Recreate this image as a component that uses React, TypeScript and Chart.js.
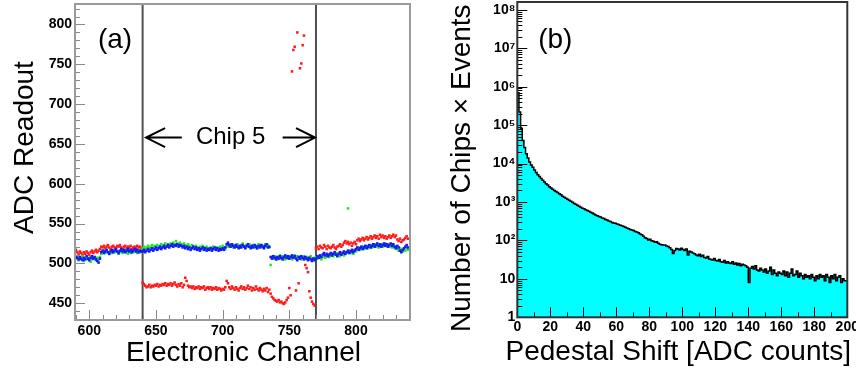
import React, { useEffect, useRef } from 'react';
import { Chart, registerables } from 'chart.js';

Chart.register(...registerables);

const FONT = '"Liberation Sans", Arial, Helvetica, sans-serif';

// ---------------- Panel (a): ADC readout per electronic channel ----------------
const firstChannel = 590; // channel of the first entry of each readout array

const redReadout = [
  517, 514, 512, 515, 513, 511, 514, 512, 515, 513,
  511, 514, 516, 513, 515, 517, 514, 516, 518, 521,
  520, 522, 519, 521, 523, 520, 518, 521, 522, 520,
  519, 522, 521, 523, 520, 518, 521, 522, 519, 521,
  520, 522, 518, 520, 521, 519, 522, 520, 521, 519,
  476, 474, 472, 470, 471, 473, 470, 472, 471, 473,
  472, 474, 471, 473, 472, 474, 473, 475, 472, 474,
  473, 475, 472, 474, 476, 473, 471, 474, 472, 475,
  470, 473, 482, 478, 472, 470, 471, 469, 471, 468,
  470, 469, 471, 468, 470, 469, 471, 467, 469, 470,
  468, 470, 467, 469, 468, 470, 467, 469, 468, 466,
  468, 467, 470, 478, 475, 470, 468, 471, 469, 467,
  470, 468, 466, 469, 471, 468, 470, 467, 469, 472,
  468, 470, 466, 469, 467, 471, 468, 466, 469, 467,
  465, 468, 466, 469, 464, 467, 462, 458, 456, 454,
  453, 452, 454, 451, 452, 450, 449, 451, 454, 457,
  469, 460, 741, 768, 772, 466, 790, 475, 745, 751,
  774, 786, 498, 494, 489, 465, 457, 452, 449, 447,
  519, 521, 518, 522, 520, 519, 523, 521, 518, 522,
  520, 519, 521, 523, 520, 518, 521, 522, 524, 521,
  523, 526, 528, 525, 527, 524, 526, 522, 525, 527,
  524, 529, 531, 528, 530, 532, 529, 531, 533, 530,
  532, 534, 531, 533, 535, 532, 534, 531, 536, 533,
  535, 532, 534, 531, 533, 535, 532, 534, 536, 533,
  535, 530, 528, 531, 527, 529, 530, 532, 534, 531,
];

const greenReadout = [
  506, 508, 504, 507, 505, 509, 503, 506, 508, 505,
  507, 502, 505, 508, 506, 504, 507, 505, 508, 512,
  515, 517, 513, 516, 514, 512, 515, 513, 516, 514,
  517, 515, 512, 514, 516, 513, 515, 517, 514, 512,
  515, 513, 516, 514, 517, 515, 513, 516, 514, 517,
  519, 521, 518, 520, 522, 519, 521, 523, 520, 522,
  521, 523, 520, 522, 524, 521, 523, 525, 522, 524,
  523, 525, 522, 526, 524, 528, 525, 523, 526, 524,
  522, 525, 523, 521, 524, 522, 520, 523, 521, 519,
  522, 520, 518, 521, 519, 522, 520, 518, 521, 519,
  517, 520, 518, 521, 519, 517, 520, 518, 521, 519,
  522, 520, 518, 521, 523, 521, 524, 522, 520, 523,
  521, 524, 522, 520, 523, 525, 522, 520, 523, 521,
  524, 522, 520, 523, 521, 519, 522, 524, 521, 523,
  520, 522, 524, 521, 523, 520, 498, 508, 506, 509,
  507, 505, 508, 510, 506, 509, 507, 505, 508, 506,
  509, 507, 505, 508, 510, 507, 509, 506, 508, 505,
  507, 509, 506, 508, 505, 507, 509, 506, 504, 507,
  508, 506, 509, 507, 505, 508, 510, 507, 509, 511,
  508, 510, 512, 509, 511, 513, 510, 512, 509, 511,
  513, 510, 512, 514, 569, 516, 513, 515, 512, 517,
  515, 518, 520, 517, 519, 521, 518, 520, 522, 519,
  521, 523, 520, 522, 524, 521, 523, 520, 522, 524,
  521, 523, 525, 522, 524, 521, 523, 520, 522, 519,
  521, 518, 516, 519, 517, 515, 518, 516, 519, 517,
];

const blueReadout = [
  509, 507, 505, 508, 506, 504, 507, 505, 509, 506,
  504, 507, 509, 506, 508, 505, 503, 501, 506, 514,
  516, 513, 515, 517, 514, 512, 515, 517, 514, 516,
  518, 515, 513, 516, 518, 515, 517, 514, 516, 518,
  515, 517, 514, 516, 518, 515, 517, 514, 516, 515,
  515, 517, 514, 516, 518, 515, 517, 519, 516, 518,
  520, 517, 519, 521, 518, 520, 522, 519, 521, 523,
  520, 522, 524, 521, 523, 522, 524, 521, 523, 522,
  520, 522, 519, 521, 518, 520, 517, 519, 521, 518,
  520, 517, 519, 516, 518, 520, 517, 519, 516, 518,
  517, 519, 516, 518, 520, 517, 519, 516, 518, 517,
  519, 517, 520, 524, 526, 523, 521, 524, 522, 520,
  523, 521, 519, 522, 520, 523, 521, 519, 522, 524,
  521, 519, 522, 520, 523, 521, 519, 522, 520, 523,
  521, 519, 522, 524, 520, 521, 508, 506, 509, 507,
  505, 508, 506, 509, 507, 505, 508, 510, 507, 509,
  506, 508, 510, 507, 509, 506, 504, 508, 506, 509,
  507, 505, 508, 506, 504, 507, 505, 503, 506, 504,
  506, 509, 507, 510, 508, 511, 513, 510, 512, 509,
  511, 513, 510, 512, 514, 511, 509, 512, 514, 511,
  513, 515, 512, 514, 516, 513, 515, 517, 514, 516,
  518, 520, 517, 519, 521, 518, 520, 522, 519, 521,
  523, 520, 522, 524, 521, 523, 525, 522, 524, 521,
  523, 525, 522, 524, 521, 523, 525, 522, 524, 521,
  519, 522, 520, 516, 514, 517, 519, 521, 523, 520,
];

const chipBoundaries = [640, 770];
const chipLabel = 'Chip 5';
const aXRange = [589.3, 840.5];
const aYRange = [428.9, 825.7];
const aXTicks = [600, 650, 700, 750, 800];
const aYTicks = [450, 500, 550, 600, 650, 700, 750, 800];

// ---------------- Panel (b): pedestal shift histogram ----------------
const shiftBinWidth = 1; // ADC counts per bin, first bin starts at 0
const shiftCounts = [
  1200000, 700000, 220000, 80000, 40000, 26000, 18000, 14000, 11000, 9200,
  8000, 6800, 5900, 5100, 4600, 4100, 3700, 3300, 3000, 2750,
  2500, 2300, 2150, 2000, 1880, 1760, 1650, 1540, 1420, 1330,
  1260, 1180, 1110, 1040, 980, 920, 870, 820, 770, 730,
  690, 665, 630, 600, 575, 545, 515, 490, 460, 440,
  420, 405, 385, 370, 350, 340, 320, 310, 295, 285,
  280, 268, 258, 250, 240, 230, 220, 210, 200, 192,
  188, 182, 172, 165, 158, 148, 140, 128, 118, 112,
  103, 108, 98, 95, 90, 92, 84, 80, 77, 76,
  76, 72, 70, 65, 58, 46, 55, 62, 60, 56,
  63, 58, 55, 60, 42, 52, 50, 47, 45, 42,
  40, 44, 38, 41, 36, 35, 38, 33, 32, 31,
  34, 30, 29, 32, 28, 27, 30, 26, 28, 26,
  25, 28, 24, 26, 23, 25, 22, 24, 23, 22,
  20, 8, 19, 21, 18, 22, 17, 16, 19, 17,
  15, 18, 14, 16, 20, 13, 17, 14, 12, 15,
  14, 13, 16, 12, 15, 11, 14, 18, 12, 13,
  16, 11, 14, 12, 10, 13, 11, 12, 10, 13,
  11, 9, 12, 10, 13, 11, 12, 9, 13, 11,
  8, 12, 10, 13, 9, 11, 12, 8, 10, 9,
];
const bXRange = [0, 200];
const bYRange = [1, 1.6e8];
const bXTicks = [0, 20, 40, 60, 80, 100, 120, 140, 160, 180, 200];
const bYTicks = [1, 10, 1e2, 1e3, 1e4, 1e5, 1e6, 1e7, 1e8];

const SUP = ['⁰', '¹', '²', '³', '⁴', '⁵', '⁶', '⁷', '⁸', '⁹'];
function powLabel(v: number): string {
  const e = Math.round(Math.log10(v));
  if (e === 0) return '1';
  if (e === 1) return '10';
  return '10' + SUP[e];
}

function range(a: number, b: number, step: number): number[] {
  const out: number[] = [];
  for (let v = a; v <= b + 1e-9; v += step) out.push(v);
  return out;
}

type TickSpec = { x: [number, number][]; y: [number, number][] };

function framePlugin(frameColor: string, frameWidth: number, tickColor: string, marks: TickSpec) {
  return {
    id: 'frameTicks',
    afterDatasetsDraw(chart: any) {
      const { ctx, chartArea: a, scales } = chart;
      ctx.save();
      ctx.strokeStyle = tickColor;
      ctx.lineWidth = 1;
      ctx.beginPath();
      for (const [v, len] of marks.x) {
        const px = Math.round(scales.x.getPixelForValue(v)) + 0.5;
        ctx.moveTo(px, a.bottom);
        ctx.lineTo(px, a.bottom - len);
      }
      for (const [v, len] of marks.y) {
        const py = Math.round(scales.y.getPixelForValue(v)) + 0.5;
        ctx.moveTo(a.left, py);
        ctx.lineTo(a.left + len, py);
      }
      ctx.stroke();
      ctx.strokeStyle = frameColor;
      ctx.lineWidth = frameWidth;
      ctx.strokeRect(a.left, a.top, a.right - a.left, a.bottom - a.top);
      ctx.restore();
    },
  };
}

function fixScale(w?: number, h?: number) {
  return (s: any) => {
    if (w !== undefined) s.width = w;
    if (h !== undefined) s.height = h;
    s.paddingLeft = 0;
    s.paddingRight = 0;
    s.paddingTop = 0;
    s.paddingBottom = 0;
  };
}

const tickFont = { family: FONT, size: 14, weight: 'bold' as const };

export default function App() {
  const refA = useRef<HTMLCanvasElement>(null);
  const refB = useRef<HTMLCanvasElement>(null);

  useEffect(() => {
    const toPoints = (arr: number[]) => arr.map((v, i) => ({ x: firstChannel + i, y: v }));

    const aMarks: TickSpec = {
      x: range(590, 840, 10).map((v) => [v, v % 50 === 0 ? 10 : 5] as [number, number]),
      y: range(430, 820, 10).map((v) => [v, v % 50 === 0 ? 10 : 5] as [number, number]),
    };

    const annotA = {
      id: 'annotA',
      beforeDatasetsDraw(chart: any) {
        const { ctx, chartArea: a, scales } = chart;
        ctx.save();
        ctx.strokeStyle = '#505050';
        ctx.lineWidth = 2;
        for (const c of chipBoundaries) {
          const px = scales.x.getPixelForValue(c);
          ctx.beginPath();
          ctx.moveTo(px, a.top);
          ctx.lineTo(px, a.bottom);
          ctx.stroke();
        }
        ctx.restore();
      },
      afterDraw(chart: any) {
        const { ctx, chartArea: a, scales } = chart;
        ctx.save();
        ctx.fillStyle = '#000';
        ctx.textAlign = 'center';
        ctx.textBaseline = 'alphabetic';
        ctx.font = `28px ${FONT}`;
        ctx.fillText('Electronic Channel', (a.left + a.right) / 2 + 1, 361);
        ctx.fillText('(a)', a.left + 40, 48);
        ctx.save();
        ctx.translate(33, 147.5);
        ctx.rotate(-Math.PI / 2);
        ctx.fillText('ADC Readout', 0, 0);
        ctx.restore();
        // chip annotation
        const yMid = scales.y.getPixelForValue(658);
        ctx.font = `24px ${FONT}`;
        ctx.textBaseline = 'middle';
        ctx.fillText(chipLabel, scales.x.getPixelForValue(706), yMid);
        const arrow = (from: number, to: number) => {
          const x0 = scales.x.getPixelForValue(from);
          const x1 = scales.x.getPixelForValue(to);
          const dir = Math.sign(x1 - x0);
          ctx.strokeStyle = '#000';
          ctx.lineWidth = 2;
          ctx.beginPath();
          ctx.moveTo(x0, yMid);
          ctx.lineTo(x1, yMid);
          ctx.moveTo(x1 - dir * 19, yMid - 9.5);
          ctx.lineTo(x1, yMid);
          ctx.lineTo(x1 - dir * 19, yMid + 9.5);
          ctx.stroke();
        };
        arrow(669.4, 642.6);
        arrow(745, 769.3);
        ctx.restore();
      },
    };

    const pointStyle = { pointStyle: 'rect', pointRadius: 1.8, borderWidth: 0, showLine: false };
    const chartA = new Chart(refA.current!, {
      type: 'scatter',
      data: {
        datasets: [
          { label: 'blue', data: toPoints(blueReadout), backgroundColor: '#1414ff', ...pointStyle },
          { label: 'green', data: toPoints(greenReadout), backgroundColor: '#22e822', ...pointStyle },
          { label: 'red', data: toPoints(redReadout), backgroundColor: '#ff1a1a', ...pointStyle },
        ] as any,
      },
      options: {
        animation: false,
        responsive: false,
        events: [],
        layout: { padding: { left: 0, right: 20, top: 1, bottom: 0 } },
        plugins: { legend: { display: false }, tooltip: { enabled: false } },
        scales: {
          x: {
            type: 'linear',
            min: aXRange[0],
            max: aXRange[1],
            grid: { display: false, drawTicks: false },
            border: { display: false },
            ticks: { font: tickFont, color: '#000', padding: 2.3, maxRotation: 0 },
            afterBuildTicks: (s: any) => { s.ticks = aXTicks.map((v) => ({ value: v })); },
            afterFit: fixScale(undefined, 52),
          },
          y: {
            type: 'linear',
            min: aYRange[0],
            max: aYRange[1],
            grid: { display: false, drawTicks: false },
            border: { display: false },
            ticks: { font: tickFont, color: '#000', padding: 3 },
            afterBuildTicks: (s: any) => { s.ticks = aYTicks.map((v) => ({ value: v })); },
            afterFit: fixScale(75, undefined),
          },
        },
      } as any,
      plugins: [annotA, framePlugin('#9a9a9a', 2, '#8a8a8a', aMarks)],
    });

    // -------- Panel (b)
    const histPoints = shiftCounts.map((c, i) => ({ x: i * shiftBinWidth, y: c }));
    histPoints.push({ x: shiftCounts.length * shiftBinWidth, y: shiftCounts[shiftCounts.length - 1] });

    const minorLog: [number, number][] = [];
    for (let e = 0; e < 8; e++) {
      for (let m = 1; m <= 9; m++) minorLog.push([m * Math.pow(10, e), m === 1 ? 10 : 5]);
    }
    minorLog.push([1e8, 10]);
    const bMarks: TickSpec = {
      x: range(0, 200, 10).map((v) => [v, v % 20 === 0 ? 10 : 5] as [number, number]),
      y: minorLog,
    };

    const annotB = {
      id: 'annotB',
      afterDraw(chart: any) {
        const { ctx, chartArea: a } = chart;
        ctx.save();
        ctx.fillStyle = '#000';
        ctx.textBaseline = 'alphabetic';
        ctx.font = `28px ${FONT}`;
        ctx.textAlign = 'center';
        ctx.fillText('Pedestal Shift [ADC counts]', 248.3, 360);
        ctx.fillText('(b)', a.left + 38, 48);
        ctx.save();
        ctx.translate(40, 332);
        ctx.rotate(-Math.PI / 2);
        ctx.textAlign = 'left';
        ctx.fillText('Number of Chips × Events', 0, 0);
        ctx.restore();
        ctx.restore();
      },
    };

    const chartB = new Chart(refB.current!, {
      type: 'line',
      data: {
        datasets: [
          {
            label: 'shift',
            data: histPoints,
            stepped: 'after',
            borderColor: '#000',
            borderWidth: 1.5,
            backgroundColor: '#00ffff',
            fill: 'start',
            pointRadius: 0,
          },
        ] as any,
      },
      options: {
        animation: false,
        responsive: false,
        events: [],
        layout: { padding: { left: 0, right: 8.7, top: 2, bottom: 0 } },
        plugins: { legend: { display: false }, tooltip: { enabled: false } },
        scales: {
          x: {
            type: 'linear',
            min: bXRange[0],
            max: bXRange[1],
            grid: { display: false, drawTicks: false },
            border: { display: false },
            ticks: { font: tickFont, color: '#000', padding: 1, maxRotation: 0 },
            afterBuildTicks: (s: any) => { s.ticks = bXTicks.map((v) => ({ value: v })); },
            afterFit: fixScale(undefined, 54.7),
          },
          y: {
            type: 'logarithmic',
            min: bYRange[0],
            max: bYRange[1],
            grid: { display: false, drawTicks: false },
            border: { display: false },
            ticks: { font: tickFont, color: '#000', padding: 2, callback: (v: any) => powLabel(Number(v)) },
            afterBuildTicks: (s: any) => { s.ticks = bYTicks.map((v) => ({ value: v })); },
            afterFit: fixScale(87.3, undefined),
          },
        },
      } as any,
      plugins: [annotB, framePlugin('#333333', 2, '#000000', bMarks)],
    });

    return () => {
      chartA.destroy();
      chartB.destroy();
    };
  }, []);

  return (
    <div style={{ position: 'absolute', left: 0, top: 0, width: 856, height: 372, background: '#fff' }}>
      <canvas ref={refA} width={430} height={372} style={{ position: 'absolute', left: 0, top: 0, width: 430, height: 372 }} />
      <canvas ref={refB} width={426} height={372} style={{ position: 'absolute', left: 430, top: 0, width: 426, height: 372 }} />
    </div>
  );
}
